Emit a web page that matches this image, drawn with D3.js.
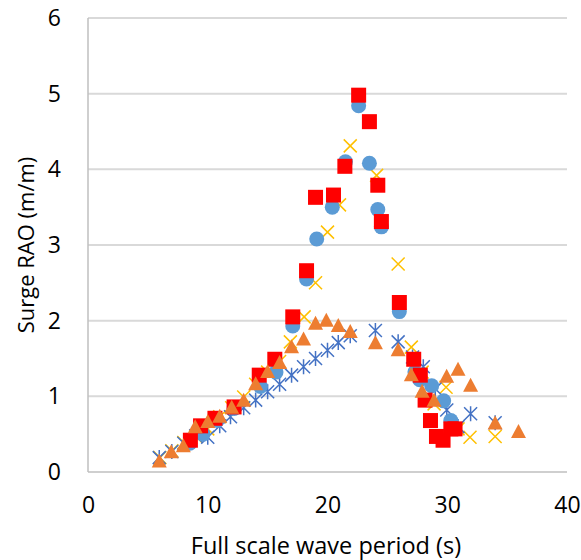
<!DOCTYPE html>
<html><head><meta charset="utf-8">
<script src="https://cdn.jsdelivr.net/npm/d3@7"></script>
<style>body{margin:0;background:#fff}svg{display:block}text{font-family:"Open Sans",Calibri,sans-serif}</style>
</head><body>
<svg id="c" width="581" height="560"></svg>
<script>
const xTicks=[0,10,20,30,40];
const yTicks=[0,1,2,3,4,5,6];
const xLabel="Full scale wave period (s)";
const yLabel="Surge RAO (m/m)";

// yellow x series
const crossX=[6,7,8,9,10,11,12,13,14,15,16,16.9,18.05,19,20,21,21.9,24.1,25.9,27,27.9,28.9,29.9,30.9,31.9,34];
const crossY=[0.19,0.28,0.39,0.47,0.57,0.73,0.85,0.99,1.16,1.32,1.46,1.72,2.05,2.5,3.17,3.53,4.31,3.92,2.75,1.65,1.32,0.9,1.12,0.57,0.46,0.47];
// blue asterisk series
const starX=[5.95,7,8,9,10,11,11.9,13,14,15,16,17,18,19,20,20.9,21.9,24,25.9,27.1,28,29,29.96,30.9,31.95,34];
const starY=[0.19,0.27,0.38,0.48,0.46,0.61,0.73,0.85,0.95,1.06,1.16,1.28,1.39,1.5,1.61,1.71,1.8,1.87,1.72,1.52,1.39,1.1,0.82,0.6,0.77,0.65];
// blue circle series
const circX=[8.5,9.6,10.8,12.2,14.4,15.7,17.1,18.25,19.1,20.4,21.5,22.6,23.5,24.2,24.5,26,27.3,27.7,28.7,29.7,30.3];
const circY=[0.38,0.5,0.68,0.84,1.13,1.32,1.93,2.55,3.08,3.5,4.1,4.84,4.08,3.47,3.24,2.12,1.32,1.22,1.14,0.94,0.68];
// red square series
const sqX=[8.55,9.4,10.6,12.2,14.3,15.6,17.1,18.25,19.0,20.5,21.45,22.6,23.5,24.2,24.5,26,27.2,27.75,28.15,28.6,29.1,29.65,30.3,30.65];
const sqY=[0.42,0.61,0.71,0.86,1.28,1.49,2.05,2.66,3.63,3.66,4.04,4.98,4.63,3.79,3.31,2.24,1.49,1.28,0.95,0.68,0.47,0.42,0.57,0.57];
// orange triangle series
const triX=[5.95,6.95,7.96,8.95,10,11,12,13,14,15,16,17,18,19,19.9,20.9,21.9,24,25.9,27,27.9,28.9,29.95,30.9,31.95,34,35.95];
const triY=[0.14,0.26,0.34,0.59,0.66,0.73,0.85,0.94,1.16,1.32,1.44,1.65,1.75,1.96,2.0,1.93,1.85,1.7,1.61,1.28,1.06,0.94,1.26,1.35,1.14,0.64,0.53];

const svg=d3.select("#c");
const L=88,R=567,T=18,B=472;
const x=d3.scaleLinear().domain([0,40]).range([L,R]);
const y=d3.scaleLinear().domain([0,6]).range([B,T]);

// gridlines
svg.append("g").selectAll("line").data(yTicks.filter(d=>d>0)).join("line")
  .attr("x1",L).attr("x2",R).attr("y1",d=>y(d)).attr("y2",d=>y(d))
  .attr("stroke","#d9d9d9").attr("stroke-width",2);
// axis lines
svg.append("line").attr("x1",L).attr("x2",L).attr("y1",T).attr("y2",B).attr("stroke","#bfbfbf").attr("stroke-width",1.5);
svg.append("line").attr("x1",L).attr("x2",R).attr("y1",B).attr("y2",B).attr("stroke","#bfbfbf").attr("stroke-width",1.5);

// tick labels via axes
const xa=svg.append("g").attr("transform",`translate(0,${B})`).call(d3.axisBottom(x).tickValues(xTicks).tickFormat(d3.format("d")).tickSize(0).tickPadding(25));
xa.select(".domain").remove();
xa.selectAll("text").attr("font-size",23).attr("fill","#000").attr("font-family","'Open Sans',sans-serif");
const ya=svg.append("g").attr("transform",`translate(${L},0)`).call(d3.axisLeft(y).tickValues(yTicks).tickFormat(d3.format("d")).tickSize(0).tickPadding(27));
ya.select(".domain").remove();
ya.selectAll("text").attr("font-size",23).attr("fill","#000").attr("font-family","'Open Sans',sans-serif");

svg.append("text").attr("x",326).attr("y",554).attr("text-anchor","middle").attr("font-size",23.5).text(xLabel);
svg.append("text").attr("transform","translate(34,245) rotate(-90)").attr("text-anchor","middle").attr("font-size",22).text(yLabel);

const zip=(a,b)=>a.map((v,i)=>[v,b[i]]);
const g=svg.append("g");
// crosses
const cs=6.5;
g.append("g").selectAll("path").data(zip(crossX,crossY)).join("path")
  .attr("d",d=>{const px=x(d[0]),py=y(d[1]);return `M${px-cs},${py-cs}L${px+cs},${py+cs}M${px-cs},${py+cs}L${px+cs},${py-cs}`;})
  .attr("stroke","#FFC000").attr("stroke-width",1.5).attr("fill","none");
// asterisks
const ss=6.5;
g.append("g").selectAll("path").data(zip(starX,starY)).join("path")
  .attr("d",d=>{const px=x(d[0]),py=y(d[1]);return `M${px-ss},${py-ss}L${px+ss},${py+ss}M${px-ss},${py+ss}L${px+ss},${py-ss}M${px},${py-ss-1}L${px},${py+ss+1}`;})
  .attr("stroke","#4472C4").attr("stroke-width",1.5).attr("fill","none");
// circles
g.append("g").selectAll("circle").data(zip(circX,circY)).join("circle")
  .attr("cx",d=>x(d[0])).attr("cy",d=>y(d[1])).attr("r",7.5).attr("fill","#5B9BD5");
// squares
const sq=15;
g.append("g").selectAll("rect").data(zip(sqX,sqY)).join("rect")
  .attr("x",d=>x(d[0])-sq/2).attr("y",d=>y(d[1])-sq/2).attr("width",sq).attr("height",sq).attr("fill","#FF0000");
// triangles
g.append("g").selectAll("path").data(zip(triX,triY)).join("path")
  .attr("d",d=>{const px=x(d[0]),py=y(d[1]);return `M${px},${py-8}L${px+7.5},${py+6}L${px-7.5},${py+6}Z`;})
  .attr("fill","#ED7D31");
</script>
</body></html>
